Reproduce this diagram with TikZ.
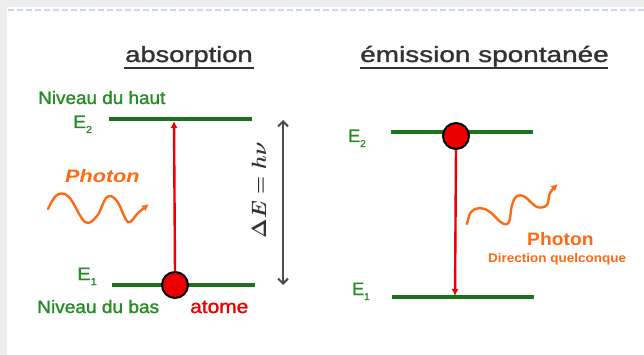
\documentclass[tikz,border=0pt]{standalone}
\usepackage{fontspec}
\setmainfont{Liberation Sans}
\newfontfamily\heavy[FakeBold=1.2]{Liberation Sans}
\usetikzlibrary{arrows.meta,calc}
\definecolor{lvlgreen}{RGB}{25,115,25}
\definecolor{txtgreen}{RGB}{35,140,35}
\definecolor{photonorange}{RGB}{255,105,20}
\definecolor{atomred}{RGB}{235,0,0}
\definecolor{titlegray}{RGB}{50,50,50}
\definecolor{bggray}{RGB}{236,236,236}
\definecolor{dotblue}{RGB}{200,215,245}
\newcommand{\fsz}[1]{\fontsize{#1}{#1}\selectfont}
\begin{document}
\begin{tikzpicture}[x=1pt,y=-1pt,
  txt/.style={inner sep=0pt,anchor=base west},
  titletext/.style={txt,text=titlegray,font=\heavy\fsz{22}},
  lvltext/.style={txt,text=txtgreen,font=\heavy\fsz{18}},
  photontext/.style={txt,text=photonorange,font=\fsz{18}\bfseries},
  levelline/.style={draw=lvlgreen,line width=3.5pt},
  atomball/.style={circle,fill=atomred,draw=black,line width=2pt,minimum size=26pt,inner sep=0pt},
  transarrow/.style={draw=atomred,line width=2.4pt,-{Latex[length=7pt,width=7pt]}},
  wavepath/.style={draw=photonorange,line width=2.4pt,line cap=round,-{Latex[length=7pt,width=7pt]}},
  gaparrow/.style={draw=black!70,line width=2pt,{Straight Barb[length=5pt,width=10pt]}-{Straight Barb[length=5pt,width=10pt]}},
  underl/.style={draw=titlegray,line width=2.4pt}
]
\useasboundingbox (0,0) rectangle (644,355);
\fill[bggray] (0,0) rectangle (644,355);
\fill[white] (7,7) rectangle (644,355);
\draw[dotblue,line width=1.5pt,dash pattern=on 6pt off 3pt] (8,10) -- (644,10);

% titles
\node[titletext,xscale=1.24] (tabs) at (125,62) {absorption};
\node[titletext,xscale=1.27] (temi) at (360,62) {émission spontanée};
\draw[underl] (124,68) -- (254,68);
\draw[underl] (360,68) -- (608,68);

% ---- absorption ----
\coordinate (a2l) at (109,119); \coordinate (a2r) at (252,119);
\coordinate (a1l) at (112,285); \coordinate (a1r) at (255,285);
\draw[levelline] (a2l) -- (a2r);
\draw[levelline] (a1l) -- (a1r);
\node[lvltext,xscale=1.05] (nhaut) at (38,104) {Niveau du haut};
\node[lvltext,xscale=1.07] (e2a) at (73,128) {E\raisebox{-5pt}{\fsz{10}2}};
\node[lvltext,xscale=1.12] (e1a) at (77,280) {E\raisebox{-5pt}{\fsz{10}1}};
\node[lvltext,xscale=1.06] (nbas) at (37,313) {Niveau du bas};
\node[txt,text=atomred,font=\heavy\fsz{19},xscale=1.1] (atome) at (190,313) {atome};
\coordinate (a2hit) at (174,121);
\node[atomball] (atomA) at (175,285) {};
\draw[transarrow] (atomA.north) -- (a2hit);

\node[photontext,font=\fsz{18}\bfseries\itshape,xscale=1.2] (phA) at (65,183) {Photon};
\draw[wavepath] plot[smooth,tension=0.6] coordinates {(48,209) (57,195) (69,197) (85,222) (97,216) (107,197) (117,201) (128,222) (138,213) (149,204)};

\coordinate (gtop) at (283,120); \coordinate (gbot) at (283,285);
\draw[gaparrow] (gbot) -- (gtop);
\node[rotate=90,text=black!80,inner sep=0pt,font=\fsz{21}\boldmath] (dE) at (259,190) {$\Delta E = h\nu$};

% ---- emission ----
\coordinate (b2l) at (391,132); \coordinate (b2r) at (533,132);
\coordinate (b1l) at (392,297); \coordinate (b1r) at (534,297);
\draw[levelline] (b2l) -- (b2r);
\draw[levelline] (b1l) -- (b1r);
\node[lvltext,xscale=1.0] (e2b) at (348,142) {E\raisebox{-5pt}{\fsz{10}2}};
\node[lvltext,xscale=1.0] (e1b) at (352,295) {E\raisebox{-5pt}{\fsz{10}1}};
\coordinate (b1hit) at (455,296);
\node[atomball] (atomB) at (456,136) {};
\draw[transarrow] (atomB.south) -- (b1hit);

\draw[wavepath] plot[smooth,tension=0.6] coordinates {(467,224) (471,212) (480,208) (490,212) (502,223) (509,222) (512,205) (517,196) (525,197) (537,207) (547,205) (550,193) (558,184)};
\node[photontext,xscale=1.07] (phB) at (527,245) {Photon};
\node[txt,text=photonorange,font=\fsz{12.6}\bfseries,xscale=1.07] (dirq) at (488,262) {Direction quelconque};
\end{tikzpicture}
\end{document}
